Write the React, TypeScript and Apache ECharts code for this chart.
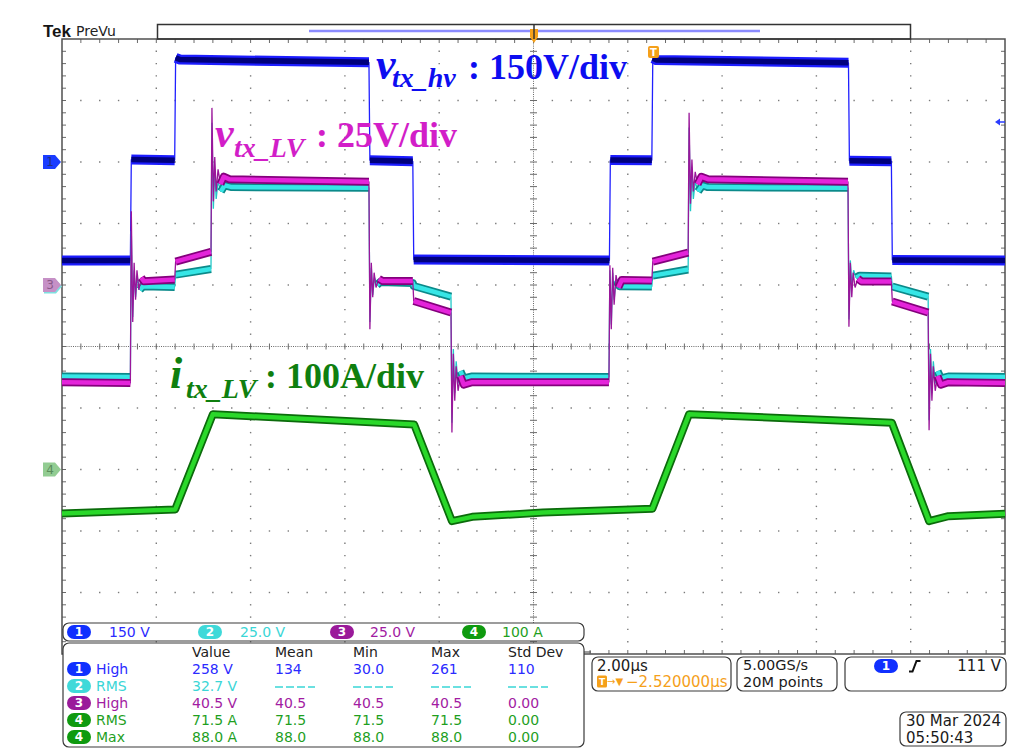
import React, { useEffect, useRef } from 'react';
import * as echarts from 'echarts';

// ---------- axes (time in µs relative to screen centre, 2 µs/div) ----------
const TIME_MIN = -10;
const TIME_MAX = 10;
const TIME_PER_DIV = 2;
const DIV_MIN = -5;
const DIV_MAX = 5;

// ---------- channels ----------
const channelIds = ['1', '2', '3', '4'];
const channelUnitsPerDiv = [150, 25, 25, 100];
const channelGroundDiv = [3, 1, 1, -2];
const channelScaleLabels = ['150 V', '25.0 V', '25.0 V', '100 A'];

// CH1 v_tx_hv (V)
const ch1Points: [number, number][] = [
  [-10, -240], [-8.55, -240], [-8.53, 6], [-7.61, 4], [-7.59, 254], [-7.5, 250], [-3.49, 243],
  [-3.47, 4], [-2.56, 2], [-2.54, -238], [1.61, -240], [1.63, 5], [2.51, 4], [2.53, 253],
  [2.6, 249], [6.68, 242], [6.7, 3], [7.59, 2], [7.61, -239], [10, -240],
];

// CH2 (cyan, V)
const ch2Points: [number, number][] = [
  [-10, -37.2], [-8.55, -37.4],
  [-8.53, 22], [-8.5, -13], [-8.47, 6], [-8.44, -5], [-8.4, 3], [-8.35, -2], [-8.28, -0.5], [-7.61, -0.8],
  [-7.59, 4.2], [-6.84, 6.5],
  [-6.82, 66], [-6.79, 31], [-6.76, 47], [-6.73, 35], [-6.69, 42], [-6.63, 38], [-6.55, 40.5], [-6.4, 39.8], [-3.49, 39.5],
  [-3.47, -15], [-3.44, 7], [-3.41, -4], [-3.37, 3], [-3.32, 0], [-3.25, 1.2], [-2.56, 0.8],
  [-2.54, -0.4], [-1.75, -4.7],
  [-1.73, -56], [-1.7, -26], [-1.67, -44], [-1.64, -31], [-1.6, -40], [-1.55, -35], [-1.48, -38], [-1.3, -37.2], [1.6, -37.4],
  [1.62, 6], [1.65, -16], [1.68, 5], [1.71, -6], [1.75, 2], [1.82, -0.5], [2.51, -0.6],
  [2.53, 3.8], [3.28, 6.3],
  [3.3, 64], [3.33, 30], [3.36, 46], [3.39, 35], [3.43, 42], [3.49, 38], [3.58, 40.5], [3.7, 39.8], [6.67, 39.5],
  [6.69, -14], [6.72, 10], [6.75, 0], [6.79, 6], [6.84, 3], [6.92, 3.8], [7.59, 3.5],
  [7.61, -0.6], [8.37, -4.7],
  [8.39, -55], [8.42, -26], [8.45, -44], [8.48, -31], [8.52, -40], [8.57, -35], [8.64, -38], [8.8, -37.2], [10, -37.4],
];

// CH3 v_tx_LV (magenta, V)
const ch3Points: [number, number][] = [
  [-10, -39.5], [-8.55, -39.8],
  [-8.53, 30], [-8.5, -15], [-8.47, 9], [-8.44, -6], [-8.41, 6], [-8.37, -2], [-8.32, 3], [-8.26, 1.5], [-7.61, 2.2],
  [-7.59, 9.5], [-6.84, 13.5],
  [-6.82, 72], [-6.79, 34], [-6.76, 52], [-6.73, 38], [-6.69, 47], [-6.64, 41], [-6.57, 44], [-6.45, 43], [-3.49, 42],
  [-3.47, -18], [-3.44, 9], [-3.41, -5], [-3.38, 5], [-3.34, -1], [-3.28, 2.5], [-3.2, 1.6], [-2.56, 1.6],
  [-2.54, -6.5], [-1.75, -11.2],
  [-1.73, -60], [-1.7, -28], [-1.67, -47], [-1.64, -33], [-1.6, -43], [-1.55, -37], [-1.48, -40.5], [-1.3, -39.5], [1.6, -39.5],
  [1.62, 8], [1.65, -18], [1.68, 7], [1.71, -8], [1.75, 4], [1.8, -1], [1.87, 2], [2.51, 1.8],
  [2.53, 9.5], [3.28, 13.2],
  [3.3, 70], [3.33, 33], [3.36, 51], [3.39, 38], [3.43, 46], [3.48, 41], [3.56, 44], [3.7, 43], [6.67, 42],
  [6.69, -17], [6.72, 9], [6.75, -5], [6.78, 5], [6.82, -1], [6.88, 2.5], [6.96, 1.4], [7.59, 1.4],
  [7.61, -6.7], [8.37, -11.2],
  [8.39, -59], [8.42, -28], [8.45, -47], [8.48, -33], [8.52, -43], [8.57, -37], [8.64, -40.5], [8.8, -39.5], [10, -39.8],
];

// CH4 i_tx_LV (A)
const ch4Points: [number, number][] = [
  [-10, -71.5], [-7.6, -65], [-6.8, 90], [-2.53, 73], [-1.73, -84], [-1.3, -77], [0.2, -70], [2.52, -64],
  [3.3, 90], [7.6, 76], [8.39, -84], [8.8, -76], [10, -72],
];

const channelPoints = [ch1Points, ch2Points, ch3Points, ch4Points];

// ---------- read-outs ----------
const measHeaders = ['Value', 'Mean', 'Min', 'Max', 'Std Dev'];
const measChannel = [1, 2, 3, 4, 4];
const measName = ['High', 'RMS', 'High', 'RMS', 'Max'];
const measValues = [
  ['258 V', '134', '30.0', '261', '110'],
  ['32.7 V', '----', '----', '----', '----'],
  ['40.5 V', '40.5', '40.5', '40.5', '0.00'],
  ['71.5 A', '71.5', '71.5', '71.5', '0.00'],
  ['88.0 A', '88.0', '88.0', '88.0', '0.00'],
];
const horizontalScale = '2.00µs';
const triggerOffset = '−2.520000µs';
const sampleRate = '5.00GS/s';
const recordLength = '20M points';
const triggerSource = '1';
const triggerLevelLabel = '111 V';
const dateLabel = '30 Mar 2024';
const timeLabel = '05:50:43';

// ---------- styling ----------
const GRID = { left: 62, top: 39, width: 943, height: 615 };
const PX_X_PER_DIV = GRID.width / 10;
const PX_Y_PER_DIV = GRID.height / 10;

const chText = ['#2b2bff', '#3ad6d6', '#a21ca2', '#1f9f1f'];
const chPill = ['#1030ff', '#3fd9d9', '#9a1a9a', '#0f9a0f'];
const traceStyle = [
  { edge: '#2020ff', outer: '#1c1cff', inner: '#00007c', ow: 10, iw: 5.5 },
  { edge: '#22c8c8', outer: '#0b8a8a', inner: '#36e6e6', ow: 8, iw: 4.5 },
  { edge: '#9a169a', outer: '#84007c', inner: '#e424da', ow: 8, iw: 4.5 },
  { edge: '#1a9a1a', outer: '#0b6b0b', inner: '#2ad82a', ow: 8, iw: 4.5 },
];
const ORANGE = '#f5a01a';
const SANS = '"DejaVu Sans"';
const SERIF = '"Liberation Serif"';

function splitBand(points: [number, number][], unitsPerDiv: number) {
  const out: any[] = [];
  for (let i = 0; i < points.length; i++) {
    out.push(points[i]);
    if (i < points.length - 1) {
      const [t0, v0] = points[i];
      const [t1, v1] = points[i + 1];
      const dxp = ((t1 - t0) / TIME_PER_DIV) * PX_X_PER_DIV;
      const dyp = (Math.abs(v1 - v0) / unitsPerDiv) * PX_Y_PER_DIV;
      if (dyp > 4 && dyp > 3 * dxp) out.push([(t0 + t1) / 2, '-']);
    }
  }
  return out;
}

function renderGraticule(params: any) {
  const cs = params.coordSys;
  const x0 = cs.x, y0 = cs.y, w = cs.width, h = cs.height;
  const nx = 10, ny = 10, minor = 5;
  const dx = w / nx, dy = h / ny;
  const cx = x0 + w / 2, cy = y0 + h / 2;
  const kids: any[] = [];
  const dotFill = '#7a7a7a';
  const dot = (x: number, y: number) =>
    kids.push({ type: 'rect', shape: { x: x - 0.7, y: y - 0.7, width: 1.4, height: 1.4 }, style: { fill: dotFill } });
  for (let i = 1; i < nx; i++) {
    if (i === nx / 2) continue;
    const x = x0 + i * dx;
    for (let k = 1; k < ny * minor; k++) dot(x, y0 + (k * dy) / minor);
  }
  for (let j = 1; j < ny; j++) {
    if (j === ny / 2) continue;
    const y = y0 + j * dy;
    for (let k = 1; k < nx * minor; k++) {
      if (k % minor === 0) continue;
      dot(x0 + (k * dx) / minor, y);
    }
  }
  const tickStyle = { stroke: '#6a6a6a', lineWidth: 1 };
  kids.push({ type: 'line', shape: { x1: x0, y1: cy, x2: x0 + w, y2: cy }, style: { stroke: '#6a6a6a', lineWidth: 1, lineDash: [1, 1.2] } });
  kids.push({ type: 'line', shape: { x1: cx, y1: y0, x2: cx, y2: y0 + h }, style: { stroke: '#6a6a6a', lineWidth: 1, lineDash: [1, 1.2] } });
  for (let k = 1; k < nx * minor; k++) {
    const x = x0 + (k * dx) / minor;
    kids.push({ type: 'line', shape: { x1: x, y1: cy - 3, x2: x, y2: cy + 3 }, style: tickStyle });
    kids.push({ type: 'line', shape: { x1: x, y1: y0, x2: x, y2: y0 + 4 }, style: tickStyle });
    kids.push({ type: 'line', shape: { x1: x, y1: y0 + h, x2: x, y2: y0 + h - 4 }, style: tickStyle });
  }
  for (let k = 1; k < ny * minor; k++) {
    const y = y0 + (k * dy) / minor;
    kids.push({ type: 'line', shape: { x1: cx - 3.5, y1: y, x2: cx + 3.5, y2: y }, style: tickStyle });
    kids.push({ type: 'line', shape: { x1: x0, y1: y, x2: x0 + 4, y2: y }, style: tickStyle });
    kids.push({ type: 'line', shape: { x1: x0 + w, y1: y, x2: x0 + w - 4, y2: y }, style: tickStyle });
  }
  kids.push({ type: 'rect', shape: { x: x0, y: y0, width: w, height: h }, style: { fill: 'none', stroke: '#505050', lineWidth: 1.5 } });
  return { type: 'group', children: kids };
}

function txt(x: number, y: number, text: string, fill: string, font: string, align = 'left', z = 100): any {
  return {
    type: 'text', x, y, z, silent: true,
    style: { text, fill, font, align, textAlign: align, verticalAlign: 'middle', textVerticalAlign: 'middle' },
  };
}
function box(x: number, y: number, w: number, h: number, r = 6, z = 99): any {
  return { type: 'rect', z, silent: true, shape: { x, y, width: w, height: h, r }, style: { fill: '#ffffff', stroke: '#3a3a3a', lineWidth: 1.2 } };
}
function pill(x: number, y: number, label: string, color: string, z = 101): any[] {
  return [
    { type: 'rect', z, silent: true, shape: { x, y: y - 7, width: 24, height: 14, r: 7 }, style: { fill: color } },
    txt(x + 12, y, label, '#ffffff', `bold 12px ${SANS}`, 'center', z + 1),
  ];
}
function marker(y: number, fill: string, label: string, labelColor: string, dx = 0, dy = 0): any[] {
  const x0 = 43 + dx, yy = y + dy;
  return [
    { type: 'polygon', z: 90, silent: true, shape: { points: [[x0, yy - 7], [x0 + 12, yy - 7], [x0 + 18, yy], [x0 + 12, yy + 7], [x0, yy + 7]] }, style: { fill } },
    ...(label ? [txt(x0 + 7, yy, label, labelColor, `12px ${SANS}`, 'center', 91)] : []),
  ];
}

function buildGraphic(): any[] {
  const g: any[] = [];
  const cy = GRID.top + GRID.height / 2;
  const groundY = (c: number) => cy - channelGroundDiv[c] * PX_Y_PER_DIV;

  // header
  g.push(txt(43, 31, 'Tek', '#151515', `bold 17px "Liberation Sans"`));
  g.push(txt(76, 31, 'PreVu', '#222', `14px ${SANS}`));
  g.push({ type: 'rect', z: 50, silent: true, shape: { x: 157.5, y: 24.5, width: 753, height: 14.5 }, style: { fill: 'none', stroke: '#333', lineWidth: 1.5 } });
  g.push({ type: 'line', z: 51, silent: true, shape: { x1: 309, y1: 31, x2: 760, y2: 31 }, style: { stroke: '#8c8cff', lineWidth: 2.5 } });
  g.push({ type: 'polygon', z: 52, silent: true, shape: { points: [[530, 29], [538, 29], [538, 37], [534, 43], [530, 37]] }, style: { fill: ORANGE } });
  g.push({ type: 'line', z: 53, silent: true, shape: { x1: 534, y1: 24, x2: 534, y2: 39 }, style: { stroke: '#333', lineWidth: 1.5 } });
  // trigger position marker
  g.push({ type: 'rect', z: 52, silent: true, shape: { x: 648, y: 46, width: 11, height: 12, r: 2 }, style: { fill: ORANGE } });
  g.push(txt(653.5, 52, 'T', '#ffffff', `bold 10px ${SANS}`, 'center', 53));
  // trigger level arrow (right)
  g.push({ type: 'polygon', z: 52, silent: true, shape: { points: [[995, 122], [1000, 118.5], [1000, 125.5]] }, style: { fill: '#2a3cff' } });
  g.push({ type: 'line', z: 52, silent: true, shape: { x1: 999, y1: 122, x2: 1005, y2: 122 }, style: { stroke: '#2a3cff', lineWidth: 1.5 } });

  // channel ground markers
  g.push(...marker(groundY(0), '#1a3cff', channelIds[0], '#22307f'));
  g.push(...marker(groundY(1), '#7fe0e0', '', '', 1, 1.5));
  g.push(...marker(groundY(2), '#c690c6', channelIds[2], '#8a5a8a'));
  g.push(...marker(groundY(3), '#92cc92', channelIds[3], '#5b8d5b'));

  // annotations
  const blue = '#0d0df0', mag = '#d21ec8', grn = '#0f7f0f';
  g.push(txt(376, 64, 'v', blue, `italic bold 44px ${SERIF}`, 'left', 60));
  g.push(txt(392, 77.5, 'tx_hv', blue, `italic bold 28px ${SERIF}`, 'left', 60));
  g.push(txt(468, 67, ': 150V/div', blue, `bold 36px ${SERIF}`, 'left', 60));
  g.push(txt(215, 133, 'v', mag, `italic bold 42px ${SERIF}`, 'left', 60));
  g.push(txt(234, 147.5, 'tx_LV', mag, `italic bold 28px ${SERIF}`, 'left', 60));
  g.push(txt(316, 135, ': 25V/div', mag, `bold 36px ${SERIF}`, 'left', 60));
  g.push(txt(170, 373, 'i', grn, `italic bold 44px ${SERIF}`, 'left', 60));
  g.push(txt(186, 388.5, 'tx_LV', grn, `italic bold 28px ${SERIF}`, 'left', 60));
  g.push(txt(265, 376, ': 100A/div', grn, `bold 36px ${SERIF}`, 'left', 60));

  // channel scale box
  g.push(box(63, 623, 521, 18));
  const pillX = [67, 198, 330, 462];
  const scaleX = [109, 240, 370, 502];
  for (let c = 0; c < 4; c++) {
    g.push(...pill(pillX[c], 632, channelIds[c], chPill[c]));
    g.push(txt(scaleX[c], 632, channelScaleLabels[c], chText[c], `14px ${SANS}`));
  }

  // measurement table
  g.push(box(63, 643, 521, 104));
  g.push({ type: 'line', z: 99, silent: true, shape: { x1: 584, y1: 652, x2: 591, y2: 652 }, style: { stroke: '#3a3a3a', lineWidth: 1 } });
  const colX = [192, 275, 353, 431, 508];
  const rowY = [669, 686, 703, 720, 737];
  measHeaders.forEach((hd, i) => g.push(txt(colX[i], 652, hd, '#222', `14px ${SANS}`)));
  measName.forEach((nm, r) => {
    const c = measChannel[r] - 1;
    g.push(...pill(67, rowY[r], String(measChannel[r]), chPill[c]));
    g.push(txt(96, rowY[r], nm, chText[c], `14px ${SANS}`));
    measValues[r].forEach((v, i) => {
      if (v === '----') {
        g.push({ type: 'line', z: 101, silent: true, shape: { x1: colX[i], y1: rowY[r] + 1, x2: colX[i] + 40, y2: rowY[r] + 1 }, style: { stroke: chText[c], lineWidth: 1.6, lineDash: [8, 3] } });
      } else {
        g.push(txt(colX[i], rowY[r], v, chText[c], `14px ${SANS}`));
      }
    });
  });

  // horizontal box
  g.push(box(592, 657, 139, 34));
  g.push(txt(597, 665.5, horizontalScale, '#1a1a1a', `15px ${SANS}`));
  g.push({ type: 'rect', z: 101, silent: true, shape: { x: 597, y: 675.5, width: 10, height: 12, r: 1.5 }, style: { fill: ORANGE } });
  g.push(txt(602, 681.5, 'T', '#ffffff', `bold 9px ${SANS}`, 'center', 102));
  g.push(txt(607, 681.5, '→▼', ORANGE, `10px ${SANS}`));
  g.push(txt(626, 681.5, triggerOffset, ORANGE, `15px ${SANS}`));
  // acquisition box
  g.push(box(737, 657, 100, 34));
  g.push(txt(743, 665, sampleRate, '#1a1a1a', `14.5px ${SANS}`));
  g.push(txt(743, 682, recordLength, '#1a1a1a', `14.5px ${SANS}`));
  // trigger box
  g.push(box(845, 657, 161, 34));
  g.push(...pill(874, 666, triggerSource, '#1030ff'));
  g.push({ type: 'polyline', z: 101, silent: true, shape: { points: [[909, 671.5], [912.5, 671.5], [916.5, 661], [920.5, 661]] }, style: { stroke: '#111', lineWidth: 2, fill: 'none' } });
  g.push(txt(1001, 666, triggerLevelLabel, '#1a1a1a', `15px ${SANS}`, 'right'));
  // date box
  g.push(box(900, 712, 106, 34));
  g.push(txt(906, 720.5, dateLabel, '#1a1a1a', `15px ${SANS}`));
  g.push(txt(906, 737.5, timeLabel, '#1a1a1a', `15px ${SANS}`));
  return g;
}

function buildOption(): any {
  const series: any[] = [
    {
      type: 'custom', name: 'graticule', xAxisIndex: 0, yAxisIndex: 0, data: [[0, 0]], silent: true, clip: false, z: 1,
      renderItem: (params: any) => renderGraticule(params),
    },
  ];
  channelPoints.forEach((pts, c) => {
    const st = traceStyle[c];
    const band = splitBand(pts, channelUnitsPerDiv[c]);
    const base = { type: 'line', xAxisIndex: 0, yAxisIndex: c + 1, showSymbol: false, symbol: 'none', silent: true, connectNulls: false, z: 2 };
    series.push({ ...base, name: `ch${c + 1}-edge`, data: pts, lineStyle: { color: st.edge, width: 1.3 } });
    series.push({ ...base, name: `ch${c + 1}-band`, data: band, lineStyle: { color: st.outer, width: st.ow, join: 'round', cap: 'butt' } });
    series.push({ ...base, name: `ch${c + 1}-core`, data: band, lineStyle: { color: st.inner, width: st.iw, join: 'round', cap: 'butt' } });
  });
  const yAxis: any[] = [{ type: 'value', min: DIV_MIN, max: DIV_MAX, interval: 1, show: false }];
  for (let c = 0; c < 4; c++) {
    yAxis.push({
      type: 'value', show: false,
      min: (DIV_MIN - channelGroundDiv[c]) * channelUnitsPerDiv[c],
      max: (DIV_MAX - channelGroundDiv[c]) * channelUnitsPerDiv[c],
    });
  }
  return {
    animation: false,
    backgroundColor: '#ffffff',
    grid: { left: GRID.left, top: GRID.top, width: GRID.width, height: GRID.height, show: false },
    xAxis: [{ type: 'value', min: TIME_MIN, max: TIME_MAX, interval: TIME_PER_DIV, show: false }],
    yAxis,
    series,
    graphic: { elements: buildGraphic() },
  };
}

export default function App() {
  const ref = useRef<HTMLDivElement>(null);
  useEffect(() => {
    if (!ref.current) return;
    const chart = echarts.init(ref.current, null, { renderer: 'svg' });
    chart.setOption(buildOption());
    return () => chart.dispose();
  }, []);
  return <div ref={ref} style={{ position: 'fixed', left: 0, top: 0, width: 1033, height: 755, background: '#fff' }} />;
}
